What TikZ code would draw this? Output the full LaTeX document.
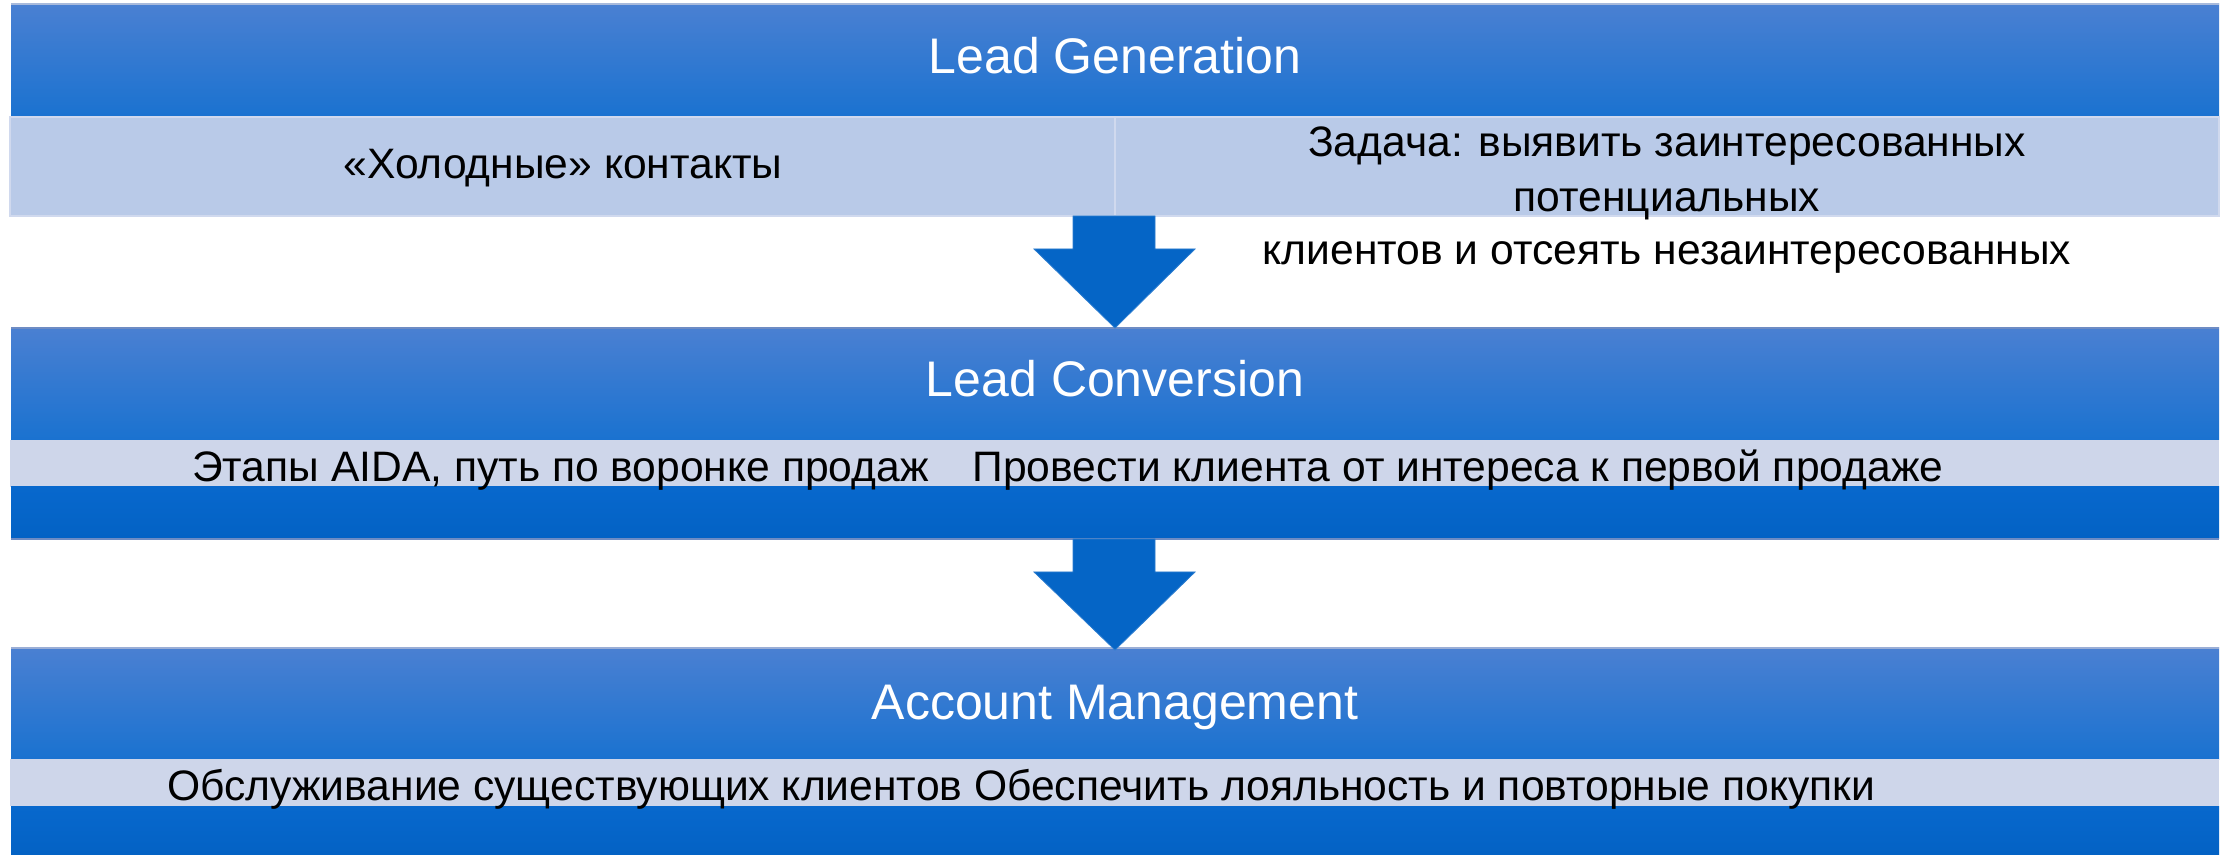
\documentclass[tikz,border=0pt]{standalone}
\usepackage{fontspec}
\setmainfont{Liberation Sans}
\usetikzlibrary{calc}

\definecolor{hdtop}{RGB}{74,128,210}
\definecolor{hdbot}{RGB}{26,114,208}
\definecolor{bandA}{RGB}{185,202,232}
\definecolor{bandB}{RGB}{206,214,234}
\definecolor{bandline}{RGB}{208,217,238}
\definecolor{lowblue}{RGB}{8,104,205}
\definecolor{lowblue2}{RGB}{3,98,196}
\definecolor{arrowblue}{RGB}{5,101,198}
\definecolor{edgegrey}{RGB}{110,140,196}

\tikzset{
  header/.style={top color=hdtop, bottom color=hdbot, draw=none},
  band/.style={fill=#1, draw=none},
  lower/.style={top color=lowblue, bottom color=lowblue2, draw=none},
  title/.style={text=white, font=\fontsize{25}{30}\selectfont, inner sep=0pt, anchor=base},
  body/.style={text=black, font=\fontsize{21.3}{26}\selectfont, inner sep=0pt},
  blockarrow/.style={fill=arrowblue, draw=arrowblue!85!white, line width=0.4pt}
}

\begin{document}
\begin{tikzpicture}[x=0.5pt,y=-0.5pt]
  \useasboundingbox (0,0) rectangle (2224,855);
  \fill[white] (0,0) rectangle (2224,855);

  % ---- Stage 1: Lead Generation ----
  \fill[header] (11,4) rectangle (2219,117);
  \draw[edgegrey!60!white, line width=0.6pt] (11,4) -- (2219,4);
  \fill[band=bandA] (10,117) rectangle (2219,216);
  \draw[bandline, line width=1pt] (10,117) rectangle (2219,216);
  \draw[bandline, line width=1pt] (1115,117) -- (1115,216);
  \coordinate (s1b) at (1115,216);
  \node[title] (t1) at (1115,74) {Lead Generation};
  \node[body, anchor=base] (c1l) at (563,179) {«Холодные» контакты};
  \node[body, anchor=base] (c1r1) at (1667,157) {Задача: выявить заинтересованных};
  \node[body, anchor=base] (c1r2) at (1667,212) {потенциальных};
  \node[body, anchor=base] (c1r3) at (1667,265) {клиентов и отсеять незаинтересованных};

  % ---- Stage 2: Lead Conversion ----
  \fill[header] (11,328) rectangle (2219,440);
  \draw[edgegrey, line width=0.6pt] (11,328) -- (2219,328);
  \fill[band=bandB] (10,440) rectangle (2219,487);
  \fill[lower] (11,487) rectangle (2219,539);
  \draw[edgegrey, line width=0.6pt] (11,539) -- (2219,539);
  \coordinate (s2t) at (1115,328);
  \coordinate (s2b) at (1115,539);
  \node[title] (t2) at (1115,397) {Lead Conversion};
  \node[body, anchor=base east] (c2l) at (929,482) {Этапы AIDA, путь по воронке продаж};
  \node[body, anchor=base west] (c2r) at (972,482) {Провести клиента от интереса к первой продаже};

  % ---- Stage 3: Account Management ----
  \fill[header] (11,648) rectangle (2219,759);
  \draw[edgegrey!70!white, line width=0.6pt] (11,648) -- (2219,648);
  \fill[band=bandB] (10,759) rectangle (2219,806);
  \fill[lower] (11,806) rectangle (2219,855);
  \coordinate (s3t) at (1115,650);
  \node[title] (t3) at (1115,719) {Account Management};
  \node[body, anchor=base west] (c3) at (167,800) {Обслуживание существующих клиентов Обеспечить лояльность и повторные покупки};

  % ---- block arrows between the stages ----
  \draw[blockarrow]
    ($(s1b)+(-42,0)$) -- ($(s1b)+(40,0)$) -- ($(s1b)+(40,33)$) -- ($(s1b)+(80,33)$)
    -- (s2t) -- ($(s1b)+(-81,33)$) -- ($(s1b)+(-42,33)$) -- cycle;
  \draw[blockarrow]
    ($(s2b)+(-42,0)$) -- ($(s2b)+(40,0)$) -- ($(s2b)+(40,33)$) -- ($(s2b)+(80,33)$)
    -- (s3t) -- ($(s2b)+(-81,33)$) -- ($(s2b)+(-42,33)$) -- cycle;
\end{tikzpicture}
\end{document}
